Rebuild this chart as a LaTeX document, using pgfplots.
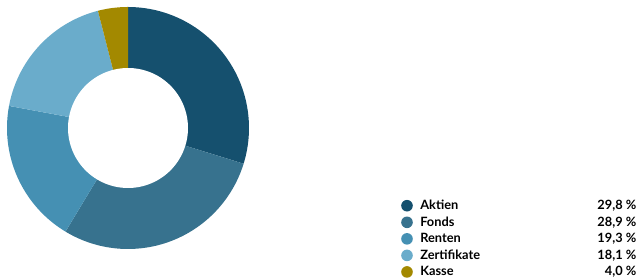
\documentclass[border=0pt]{standalone}
\usepackage{pgfplots}
\pgfplotsset{compat=1.18}
\usepackage{fontspec}
\setmainfont{Lato}
\definecolor{cA}{HTML}{15506E}
\definecolor{cB}{HTML}{37728E}
\definecolor{cC}{HTML}{4590B3}
\definecolor{cD}{HTML}{6AACCB}
\definecolor{cE}{HTML}{A38900}
% data (percent)
\def\vA{29.8}\def\vB{28.9}\def\vC{19.3}\def\vD{18.1}\def\vE{4.0}
\pgfmathsetmacro{\tot}{\vA+\vB+\vC+\vD+\vE}
\pgfmathsetmacro{\f}{360/\tot}
\pgfmathsetmacro{\aA}{90}
\pgfmathsetmacro{\aB}{\aA-\vA*\f}
\pgfmathsetmacro{\aC}{\aB-\vB*\f}
\pgfmathsetmacro{\aD}{\aC-\vC*\f}
\pgfmathsetmacro{\aE}{\aD-\vD*\f}
\pgfmathsetmacro{\aF}{\aE-\vE*\f}
\newcommand{\entry}[2]{\hspace*{6pt}\makebox[216pt][l]{#1\hfill #2 \%}}
\begin{document}
\begin{tikzpicture}
\begin{axis}[
  width=640pt, height=276pt, scale only axis,
  xmin=0, xmax=640, ymin=0, ymax=276,
  hide axis,
  legend style={draw=none, fill=none, at={(axis cs:401,77.5)}, anchor=north west,
    font=\fontsize{12.8}{13}\selectfont\bfseries, row sep=2.6pt,
    inner sep=0pt, nodes={inner sep=1.5pt}},
  legend cell align=left,
  legend image code/.code={\fill[#1] (6pt,0pt) circle (5.8pt);},
]
\addplot[fill=cA, draw=none, domain=\aB:\aA, samples=80] ({128+121*cos(x)},{148+121*sin(x)}) -- (axis cs:128,148) -- cycle;
\addlegendentry{\entry{Aktien}{29,8}}
\addplot[fill=cB, draw=none, domain=\aC:\aB, samples=80] ({128+121*cos(x)},{148+121*sin(x)}) -- (axis cs:128,148) -- cycle;
\addlegendentry{\entry{Fonds}{28,9}}
\addplot[fill=cC, draw=none, domain=\aD:\aC, samples=60] ({128+121*cos(x)},{148+121*sin(x)}) -- (axis cs:128,148) -- cycle;
\addlegendentry{\entry{Renten}{19,3}}
\addplot[fill=cD, draw=none, domain=\aE:\aD, samples=60] ({128+121*cos(x)},{148+121*sin(x)}) -- (axis cs:128,148) -- cycle;
\addlegendentry{\entry{Zertifikate}{18,1}}
\addplot[fill=cE, draw=none, domain=\aF:\aE, samples=20] ({128+121*cos(x)},{148+121*sin(x)}) -- (axis cs:128,148) -- cycle;
\addlegendentry{\entry{Kasse}{4,0}}
\addplot[fill=white, draw=none, domain=0:360, samples=120, forget plot] ({128+60*cos(x)},{148+60*sin(x)});
\end{axis}
\path (0,0) rectangle (640pt,276pt);
\end{tikzpicture}
\end{document}
